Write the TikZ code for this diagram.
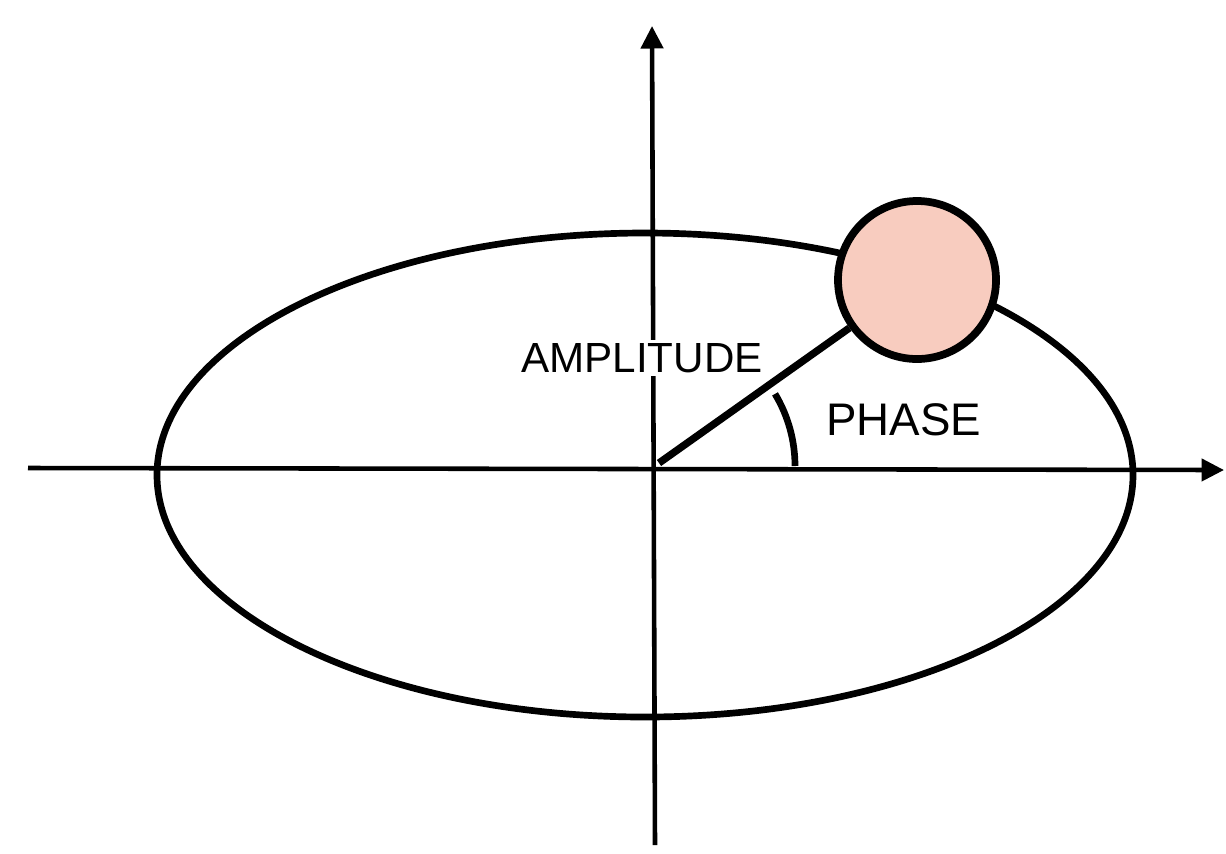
\documentclass[tikz,border=0pt]{standalone}
\usepackage{fontspec}
\setmainfont{Liberation Sans}
\usetikzlibrary{arrows.meta}
\definecolor{ballpink}{HTML}{F8CCBF}

\begin{document}
\begin{tikzpicture}[x=0.02cm,y=-0.02cm,>={Triangle[length=4.5mm,width=4.4mm]},
  axis/.style={line width=2.6pt},
  orbit/.style={line width=3.8pt},
  lbl/.style={font=\fontsize{24}{27}\selectfont}]
\useasboundingbox (0,0) rectangle (1226,853);
\coordinate (O) at (659,463);
\coordinate (xl) at (28,468);
\coordinate (xr) at (1224,470);
\coordinate (yb) at (655,845);
\coordinate (yt) at (652,26);
\draw[orbit] (645,475) ellipse [x radius=488, y radius=242];
\draw[axis,->] (xl) -- (xr);
\draw[axis,->] (yb) -- (yt);
\node[lbl,fill=white,inner sep=2pt] (amp) at (642,358) {AMPLITUDE};
\node[circle,draw,line width=4.4pt,fill=ballpink,minimum size=158*0.02cm] (ball) at (917,280) {};
\draw[line width=4.2pt] (O) -- (ball);
\draw[orbit] ([shift={(0:140)}]655,466) arc[start angle=0,end angle=-31,radius=140];
\node[lbl,font=\fontsize{26}{29}\selectfont,anchor=west] (phase) at (820,420) {PHASE};
\end{tikzpicture}
\end{document}
